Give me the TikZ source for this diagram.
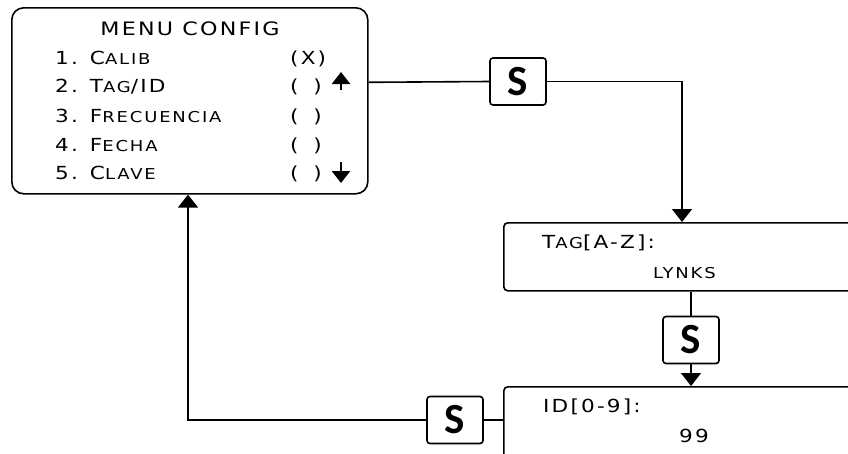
\documentclass[tikz,border=0pt]{standalone}
\usepackage{fontspec}
\setmainfont{DejaVu Sans}[FakeStretch=1.2,LetterSpace=12]
\newfontfamily\keyfont{Carlito}
\usetikzlibrary{arrows.meta}
\newcommand\smcap[1]{{\fontsize{15}{15}\selectfont #1}}
\tikzset{
  screen/.style={draw, line width=1.6pt, rounded corners=4pt, inner sep=0pt},
  keybox/.style={draw, line width=1.6pt, rounded corners=3pt, minimum width=56pt, minimum height=47pt, inner sep=0pt, font=\keyfont\bfseries\fontsize{43}{43}\selectfont},
  conn/.style={line width=1.6pt},
  tip/.style={-{Triangle[width=20pt,length=13pt]}},
  lbl/.style={inner sep=0pt, font=\fontsize{18}{18}\selectfont, anchor=base west},
  scrollarrow/.style={line width=2.6pt, -{Triangle[width=18pt,length=12pt]}},
}
\begin{document}
\begin{tikzpicture}[x=1pt,y=-1pt]
\useasboundingbox (0,0) rectangle (848,453);
\clip (0,0) rectangle (848,453);
% menu screen
\node[screen, rounded corners=12pt, minimum width=356pt, minimum height=186pt, anchor=north west] (menu) at (11,7) {};
\node[lbl, anchor=base, font=\fontsize{18.5}{18.5}\selectfont] (title) at (190,35) {MENU CONFIG};
\node[lbl] (i1) at (55,64) {1. C\smcap{ALIB}};
\node[lbl] (i2) at (55,92) {2. T\smcap{AG}/ID};
\node[lbl] (i3) at (55,122) {3. F\smcap{RECUENCIA}};
\node[lbl] (i4) at (55,151) {4. F\smcap{ECHA}};
\node[lbl] (i5) at (55,179) {5. C\smcap{LAVE}};
\node[lbl] (p1) at (290,64) {(X)};
\node[lbl] (p2) at (290,92) {(\hphantom{X})};
\node[lbl] (p3) at (290,122) {(\hphantom{X})};
\node[lbl] (p4) at (290,151) {(\hphantom{X})};
\node[lbl] (p5) at (290,179) {(\hphantom{X})};
\draw[scrollarrow] (341,90) -- (341,72);
\draw[scrollarrow] (341,162) -- (341,183);
% tag screen
\node[screen, minimum width=400pt, minimum height=68pt, anchor=north west] (tag) at (503,222) {};
\node[lbl] (tagl) at (542,248) {T\smcap{AG}[A-Z]:};
\node[lbl] (tagv) at (653,278) {\smcap{LYNKS}};
% id screen
\node[screen, minimum width=400pt, minimum height=120pt, anchor=north west] (id) at (503,386) {};
\node[lbl] (idl) at (543,412) {ID[0-9]:};
\node[lbl] (idv) at (679,442) {99};
% keys
\node[keybox] (k1) at (518,81.5) {S};
\node[keybox] (k2) at (691,340) {S};
\node[keybox] (k3) at (455,420) {S};
% connectors
\coordinate (t1) at (682,222);
\draw[conn] ([yshift=18.5pt]menu.east) -- (k1.west);
\draw[conn,tip] (k1.east) -| (t1);
\draw[conn] (tag.south -| k2.north) -- (k2.north);
\draw[conn,tip] (k2.south) -- (k2.south |- id.north);
\draw[conn] (k3.east -| id.west) -- (k3.east);
\draw[conn,tip] (k3.west) -| ([xshift=177pt]menu.south west);
\end{tikzpicture}
\end{document}
